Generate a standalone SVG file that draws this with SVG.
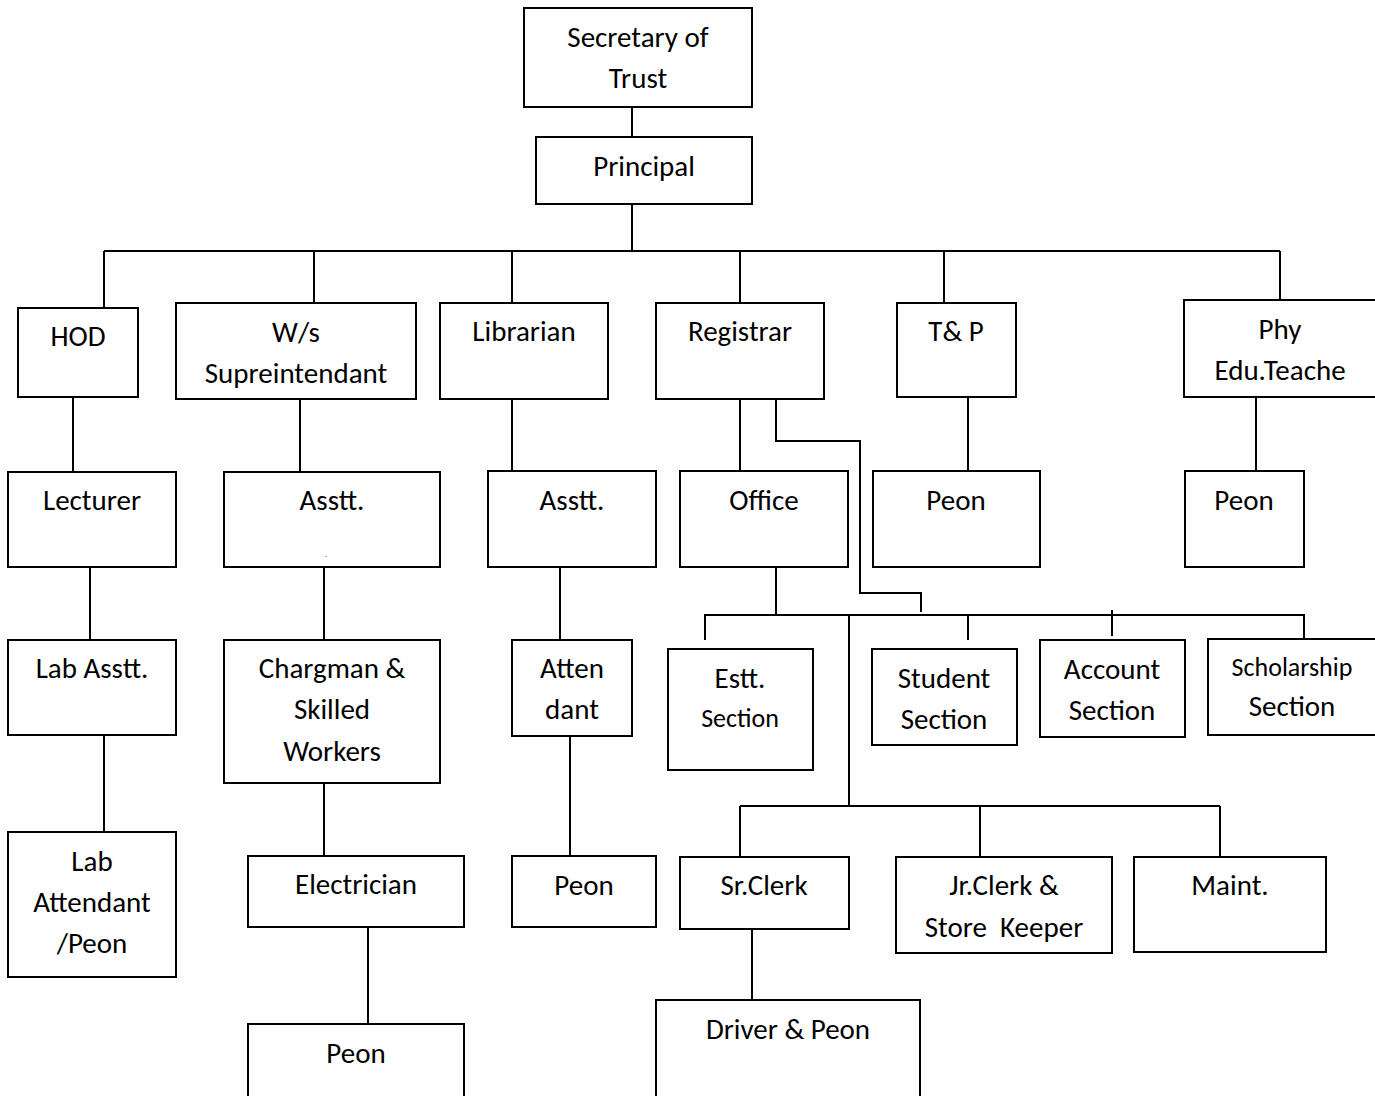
<svg xmlns="http://www.w3.org/2000/svg" width="1375" height="1096" viewBox="0 0 1375 1096">
<style>
rect{fill:#fff;stroke:#000;stroke-width:2}
#connectors line,#connectors polyline{stroke:#000;stroke-width:2;fill:none}
text{font-family:Carlito,Lato,"Liberation Sans",sans-serif;font-size:29px;fill:#000;text-anchor:middle}
.s{font-size:26px}
.t{font-size:8px}
</style>
<rect x="0" y="0" width="1375" height="1096" style="fill:#fff;stroke:none"/>
<g id="connectors">
<line x1="632" y1="107" x2="632" y2="137"/>
<line x1="632" y1="204" x2="632" y2="251"/>
<line x1="104" y1="251" x2="1280" y2="251"/>
<line x1="104" y1="251" x2="104" y2="308"/>
<line x1="314" y1="251" x2="314" y2="303"/>
<line x1="512" y1="251" x2="512" y2="303"/>
<line x1="740" y1="251" x2="740" y2="303"/>
<line x1="944" y1="251" x2="944" y2="303"/>
<line x1="1280" y1="251" x2="1280" y2="300"/>
<line x1="73" y1="397" x2="73" y2="472"/>
<line x1="300" y1="399" x2="300" y2="472"/>
<line x1="512" y1="397" x2="512" y2="471"/>
<line x1="740" y1="399" x2="740" y2="471"/>
<polyline points="776,399 776,441 860,441 860,593 921,593 921,612"/>
<line x1="968" y1="397" x2="968" y2="471"/>
<line x1="1256" y1="397" x2="1256" y2="471"/>
<line x1="90" y1="567" x2="90" y2="640"/>
<line x1="104" y1="735" x2="104" y2="832"/>
<line x1="324" y1="567" x2="324" y2="640"/>
<line x1="324" y1="783" x2="324" y2="856"/>
<line x1="368" y1="927" x2="368" y2="1024"/>
<line x1="560" y1="567" x2="560" y2="640"/>
<line x1="570" y1="736" x2="570" y2="856"/>
<line x1="776" y1="567" x2="776" y2="615"/>
<line x1="704" y1="615" x2="1305" y2="615"/>
<line x1="705" y1="615" x2="705" y2="640"/>
<line x1="968" y1="615" x2="968" y2="640"/>
<line x1="1112" y1="610" x2="1112" y2="636"/>
<line x1="1304" y1="615" x2="1304" y2="639"/>
<line x1="849" y1="615" x2="849" y2="806"/>
<line x1="740" y1="806" x2="1220" y2="806"/>
<line x1="740" y1="806" x2="740" y2="857"/>
<line x1="980" y1="806" x2="980" y2="857"/>
<line x1="1220" y1="806" x2="1220" y2="857"/>
<line x1="752" y1="929" x2="752" y2="1000"/>
</g>
<g id="secretary"><rect x="524" y="8" width="228" height="99"/><text x="638" y="47">Secretary of</text><text x="638" y="88">Trust</text></g>
<g id="principal"><rect x="536" y="137" width="216" height="67"/><text x="644" y="176">Principal</text></g>
<g id="hod"><rect x="18" y="308" width="120" height="89"/><text x="78" y="346">HOD</text></g>
<g id="ws"><rect x="176" y="303" width="240" height="96"/><text x="296" y="342">W/s</text><text x="296" y="383">Supreintendant</text></g>
<g id="librarian"><rect x="440" y="303" width="168" height="96"/><text x="524" y="341">Librarian</text></g>
<g id="registrar"><rect x="656" y="303" width="168" height="96"/><text x="740" y="341">Registrar</text></g>
<g id="tp"><rect x="897" y="303" width="119" height="94"/><text x="956" y="341">T&amp; P</text></g>
<g id="phy"><rect x="1184" y="300" width="193" height="97"/><text x="1280" y="339">Phy</text><text x="1280" y="380">Edu.Teache</text></g>
<g id="lecturer"><rect x="8" y="472" width="168" height="95"/><text x="92" y="510">Lecturer</text></g>
<g id="ws-asstt"><rect x="224" y="472" width="216" height="95"/><text x="332" y="510">Asstt.</text><text class="t" x="326" y="557">.</text></g>
<g id="lib-asstt"><rect x="488" y="471" width="168" height="96"/><text x="572" y="510">Asstt.</text></g>
<g id="office"><rect x="680" y="471" width="168" height="96"/><text x="764" y="510">Office</text></g>
<g id="tp-peon"><rect x="873" y="471" width="167" height="96"/><text x="956" y="510">Peon</text></g>
<g id="phy-peon"><rect x="1185" y="471" width="119" height="96"/><text x="1244" y="510">Peon</text></g>
<g id="lab-asstt"><rect x="8" y="640" width="168" height="95"/><text x="92" y="678">Lab Asstt.</text></g>
<g id="lab-attendant"><rect x="8" y="832" width="168" height="145"/><text x="92" y="871">Lab</text><text x="92" y="912">Attendant</text><text x="92" y="953">/Peon</text></g>
<g id="chargman"><rect x="224" y="640" width="216" height="143"/><text x="332" y="678">Chargman &amp;</text><text x="332" y="719">Skilled</text><text x="332" y="761">Workers</text></g>
<g id="electrician"><rect x="248" y="856" width="216" height="71"/><text x="356" y="894">Electrician</text></g>
<g id="ws-peon"><rect x="248" y="1024" width="216" height="75"/><text x="356" y="1063">Peon</text></g>
<g id="attendant"><rect x="512" y="640" width="120" height="96"/><text x="572" y="678">Atten</text><text x="572" y="719">dant</text></g>
<g id="lib-peon"><rect x="512" y="856" width="144" height="71"/><text x="584" y="895">Peon</text></g>
<g id="estt"><rect x="668" y="649" width="145" height="121"/><text x="740" y="688">Estt.</text><text class="s" x="740" y="727">Section</text></g>
<g id="student"><rect x="872" y="649" width="145" height="96"/><text x="944" y="688">Student</text><text x="944" y="729">Section</text></g>
<g id="account"><rect x="1040" y="640" width="145" height="97"/><text x="1112" y="679">Account</text><text x="1112" y="720">Section</text></g>
<g id="scholarship"><rect x="1208" y="639" width="169" height="96"/><text class="s" x="1292" y="676">Scholarship</text><text x="1292" y="716">Section</text></g>
<g id="srclerk"><rect x="680" y="857" width="169" height="72"/><text x="764" y="895">Sr.Clerk</text></g>
<g id="jrclerk"><rect x="896" y="857" width="216" height="96"/><text x="1004" y="895">Jr.Clerk &amp;</text><text x="1004" y="937" xml:space="preserve">Store  Keeper</text></g>
<g id="maint"><rect x="1134" y="857" width="192" height="95"/><text x="1230" y="895">Maint.</text></g>
<g id="driver"><rect x="656" y="1000" width="264" height="99"/><text x="788" y="1039">Driver &amp; Peon</text></g>
</svg>
